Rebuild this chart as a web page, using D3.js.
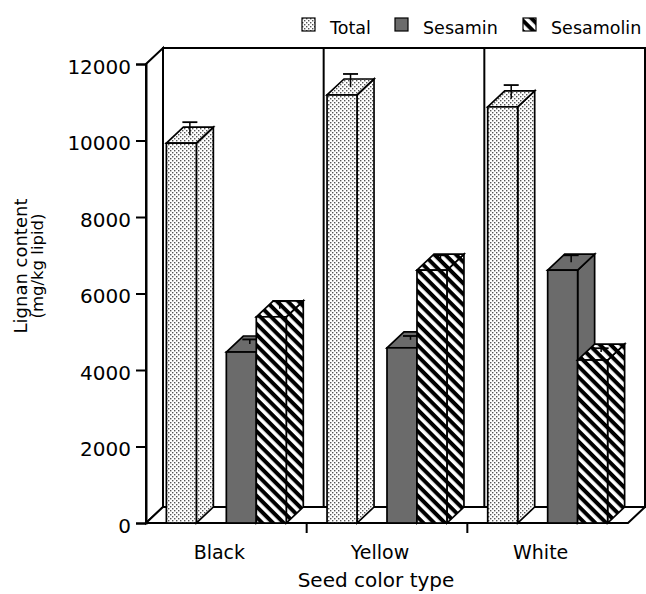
<!DOCTYPE html>
<html>
<head>
<meta charset="utf-8">
<script src="https://cdn.jsdelivr.net/npm/d3@7"></script>
<style>
  body { margin: 0; background: #fff; }
  svg { display: block; }
  text { font-family: "DejaVu Sans", Verdana, sans-serif; fill: #000; }
</style>
</head>
<body>
<svg id="chart" width="646" height="594"></svg>
<script>
// Lignan content of sesame seeds by seed colour (mg/kg lipid)
const categories = ["Black", "Yellow", "White"];
const seriesNames = ["Total", "Sesamin", "Sesamolin"];
const totalValues = [9930, 11190, 10880];
const sesaminValues = [4470, 4580, 6610];
const sesamolinValues = [5390, 6610, 4260];
const totalErrors = [340, 340, 360];
const sesaminErrors = [120, 100, 180];
const sesamolinErrors = [200, 180, 100];
const yTicks = [0, 2000, 4000, 6000, 8000, 10000, 12000];

const svg = d3.select("#chart");

// depth offset of the 3-D box
const DX = 17, DY = 16;

const x = d3.scaleBand().domain(categories).range([146, 628]).padding(0);
// four slots per category: Total, (gap), Sesamin, Sesamolin
const slot = d3.scaleBand().domain([0, 1, 2, 3]).range([0, x.bandwidth()])
  .paddingInner(0).paddingOuter(0.68);
const seriesSlot = { Total: 0, Sesamin: 2, Sesamolin: 3 };
const y = d3.scaleLinear().domain([0, 12000]).range([523, 64]);

// ---- fill patterns
const defs = svg.append("defs");
const dots = defs.append("pattern").attr("id", "dots")
  .attr("patternUnits", "userSpaceOnUse").attr("width", 4).attr("height", 4);
dots.append("rect").attr("width", 4).attr("height", 4).attr("fill", "#fff");
dots.append("rect").attr("x", 0).attr("y", 0).attr("width", 1.4).attr("height", 1.4).attr("fill", "#555");
dots.append("rect").attr("x", 2).attr("y", 2).attr("width", 1.4).attr("height", 1.4).attr("fill", "#555");

const hatch = defs.append("pattern").attr("id", "hatch")
  .attr("patternUnits", "userSpaceOnUse").attr("width", 7.6).attr("height", 7.6)
  .attr("patternTransform", "rotate(45)");
hatch.append("rect").attr("width", 7.6).attr("height", 7.6).attr("fill", "#fff");
hatch.append("rect").attr("width", 7.6).attr("height", 4).attr("fill", "#000");

const fills = { Total: "url(#dots)", Sesamin: "#6b6b6b", Sesamolin: "url(#hatch)" };

// ---- walls and floor
const x0 = x.range()[0], x1 = x.range()[1];
const P = (px, v, z) => [px + z * DX, y(v) - z * DY];
const poly = pts => "M" + pts.map(p => p.join(",")).join("L") + "Z";
const walls = svg.append("g").attr("fill", "#fff").attr("stroke", "#000")
  .attr("stroke-width", 2).attr("stroke-linejoin", "miter");
const yMax = y.domain()[1];
walls.append("path").attr("d", poly([P(x0, 0, 1), P(x0, yMax, 1), P(x1, yMax, 1), P(x1, 0, 1)]));
walls.append("path").attr("d", poly([P(x0, 0, 0), P(x0, yMax, 0), P(x0, yMax, 1), P(x0, 0, 1)]));
walls.append("path").attr("d", poly([P(x0, 0, 0), P(x1, 0, 0), P(x1, 0, 1), P(x0, 0, 1)]));
// category dividers on the back wall
categories.slice(1).forEach(c => {
  walls.append("line")
    .attr("x1", P(x(c), 0, 1)[0]).attr("y1", P(x(c), 0, 1)[1])
    .attr("x2", P(x(c), yMax, 1)[0]).attr("y2", P(x(c), yMax, 1)[1]);
});

// ---- bars
const data = [];
categories.forEach((c, i) => {
  data.push({ cat: c, s: "Total", v: totalValues[i], e: totalErrors[i] });
  data.push({ cat: c, s: "Sesamin", v: sesaminValues[i], e: sesaminErrors[i] });
  data.push({ cat: c, s: "Sesamolin", v: sesamolinValues[i], e: sesamolinErrors[i] });
});

const barG = svg.append("g").attr("stroke", "#000").attr("stroke-width", 1.7)
  .attr("stroke-linejoin", "miter");
data.forEach(d => {
  const bx = x(d.cat) + slot(seriesSlot[d.s]);
  const w = slot.bandwidth();
  const g = barG.append("g");
  // right side face
  g.append("path").attr("fill", fills[d.s])
    .attr("d", poly([P(bx + w, d.v, 0), P(bx + w, d.v, 1), P(bx + w, 0, 1), P(bx + w, 0, 0)]));
  // top face
  g.append("path").attr("fill", fills[d.s])
    .attr("d", poly([P(bx, d.v, 0), P(bx, d.v, 1), P(bx + w, d.v, 1), P(bx + w, d.v, 0)]));
  // front face
  g.append("rect").attr("fill", fills[d.s])
    .attr("x", bx).attr("y", y(d.v)).attr("width", w).attr("height", y(0) - y(d.v));
  // error bar from the middle of the top face
  const cx = bx + w / 2 + DX / 2;
  const yb = y(d.v) - DY / 2, yt = y(d.v + d.e) - DY / 2;
  g.append("line").attr("x1", cx).attr("x2", cx).attr("y1", yb).attr("y2", yt).attr("stroke-width", 1.5);
  g.append("line").attr("x1", cx - 7.5).attr("x2", cx + 7.5).attr("y1", yt).attr("y2", yt).attr("stroke-width", 1.8);
});

// ---- y axis on the front edge
const yAxis = d3.axisLeft(y).tickValues(yTicks).tickSize(10).tickPadding(5).tickFormat(d3.format("d"));
const ya = svg.append("g").attr("transform", `translate(${x0},0)`).call(yAxis);
ya.select(".domain").attr("stroke", "#000").attr("stroke-width", 2);
ya.selectAll(".tick line").attr("stroke", "#000").attr("stroke-width", 2);
ya.selectAll(".tick text").attr("font-size", 20).attr("font-family", "DejaVu Sans").attr("fill", "#000")
  .attr("dy", "0.47em");

// ---- category ticks and labels along the front floor edge
const xa = svg.append("g");
categories.slice(1).forEach(c => {
  xa.append("line").attr("x1", x(c)).attr("x2", x(c)).attr("y1", y(0)).attr("y2", y(0) + 10)
    .attr("stroke", "#000").attr("stroke-width", 2);
});
xa.selectAll("text").data(categories).join("text")
  .attr("x", c => x(c) + x.bandwidth() / 2 - 7).attr("y", 559)
  .attr("text-anchor", "middle").attr("font-size", 19).text(c => c);

svg.append("text").attr("x", 376).attr("y", 587).attr("text-anchor", "middle")
  .attr("font-size", 20).text("Seed color type");

const yTitle = svg.append("g").attr("transform", "translate(0,266) rotate(-90)");
yTitle.append("text").attr("x", 0).attr("y", 27).attr("text-anchor", "middle")
  .attr("font-size", 18).text("Lignan content");
yTitle.append("text").attr("x", 0).attr("y", 43).attr("text-anchor", "middle")
  .attr("font-size", 16.5).text("(mg/kg lipid)");

// ---- legend
const legendX = [302, 395, 523];
const lg = svg.append("g");
seriesNames.forEach((s, i) => {
  lg.append("rect").attr("x", legendX[i]).attr("y", 18).attr("width", 13).attr("height", 13)
    .attr("fill", fills[s]).attr("stroke", "#000").attr("stroke-width", 1.2);
  lg.append("text").attr("x", legendX[i] + 28).attr("y", 34).attr("font-size", 17.5).text(s);
});
</script>
</body>
</html>
